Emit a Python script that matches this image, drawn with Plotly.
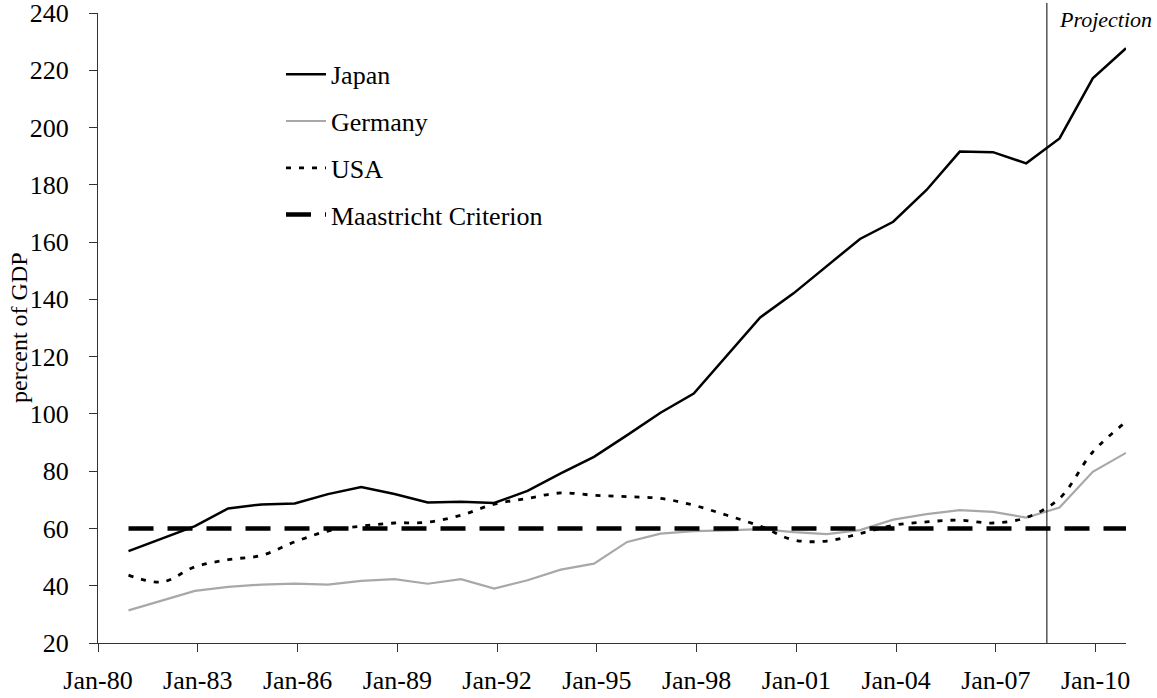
import plotly.graph_objects as go

years = list(range(1980, 2011))
dates = [f"{y}-12-01" for y in years]

japan = [52.1, 56.5, 60.8, 67.0, 68.4, 68.7, 72.0, 74.5, 72.0, 69.1, 69.3, 68.9, 73.1, 79.2, 85.0,
         92.6, 100.4, 107.1, 120.6, 133.7, 142.1, 151.5, 161.1, 167.1, 178.2, 191.6, 191.4, 187.5,
         196.2, 217.2, 227.7]
germany = [31.4, 34.9, 38.2, 39.6, 40.4, 40.7, 40.4, 41.7, 42.3, 40.7, 42.3, 39.0, 41.9, 45.6, 47.7,
           55.3, 58.2, 59.1, 59.3, 59.8, 58.7, 58.0, 59.4, 63.1, 65.0, 66.4, 65.8, 63.8, 67.3, 79.8, 86.4]
usa = [43.7, 41.3, 46.6, 49.1, 50.6, 55.3, 59.1, 60.8, 61.9, 62.2, 64.6, 68.5, 70.5, 72.4, 71.6,
       71.1, 70.5, 68.1, 64.6, 60.8, 56.0, 55.6, 58.2, 61.1, 62.3, 62.9, 61.9, 63.8, 70.5, 86.7, 97.2]
maastricht_level = 60
maastricht_dates = [dates[0], dates[-1]]
maastricht = [maastricht_level, maastricht_level]

projection_date = "2008-07-15"
tick_dates = [f"{y}-01-01" for y in range(1980, 2011, 3)]
tick_text = [f"Jan-{str(y)[2:]}" for y in range(1980, 2011, 3)]
y_ticks = list(range(20, 241, 20))

FONT = "Liberation Serif, Times New Roman, serif"

fig = go.Figure()
fig.add_trace(go.Scatter(x=dates, y=japan, mode="lines", name="Japan", legendgroup="a",
                         line=dict(color="black", width=2.5)))
fig.add_trace(go.Scatter(x=dates, y=germany, mode="lines", name="Germany", legendgroup="b",
                         line=dict(color="#a8a8a8", width=2.2)))
fig.add_trace(go.Scatter(x=dates, y=usa, mode="lines", name="USA", legendgroup="c",
                         line=dict(color="black", width=2.8, dash="5px,8px", shape="spline", smoothing=1)))
fig.add_trace(go.Scatter(x=maastricht_dates, y=maastricht, mode="lines", name="Maastricht Criterion",
                         legendgroup="d", line=dict(color="black", width=4.5, dash="25px,14px")))

fig.add_shape(type="line", xref="x", yref="paper", x0=projection_date, x1=projection_date,
              y0=0, y1=1.016, line=dict(color="black", width=1))
fig.add_annotation(x=projection_date, xref="x", y=0.989, yref="paper", text="<i>Projection</i>",
                   showarrow=False, xanchor="left", yanchor="middle", xshift=10,
                   font=dict(family=FONT, size=22, color="black"))
fig.add_annotation(x=0, xref="paper", y=0.5, yref="paper", text="percent of GDP",
                   showarrow=False, textangle=-90, xanchor="center", yanchor="middle", xshift=-79,
                   font=dict(family=FONT, size=24, color="black"))

fig.update_layout(
    width=1157, height=698,
    margin=dict(l=98, r=31, t=13, b=55, autoexpand=False),
    paper_bgcolor="white", plot_bgcolor="white",
    font=dict(family=FONT, size=26, color="black"),
    showlegend=True,
    legend=dict(x=0.178, y=0.94, xanchor="left", yanchor="top", bgcolor="rgba(0,0,0,0)",
                font=dict(family=FONT, size=26, color="black"), tracegroupgap=10,
                itemwidth=40),
    xaxis=dict(type="date", range=["1980-01-01", "2010-12-01"], tickmode="array",
               tickvals=tick_dates, ticktext=tick_text, showgrid=False, zeroline=False,
               showline=True, linecolor="#333333", linewidth=1, ticks="outside", ticklen=8,
               tickcolor="#333333", ticklabelstandoff=6, automargin=False,
               ticklabeloverflow="allow", tickfont=dict(family=FONT, size=26)),
    yaxis=dict(range=[20, 240], tickmode="array", tickvals=y_ticks, showgrid=False, zeroline=False,
               showline=True, linecolor="#333333", linewidth=1, ticks="outside", ticklen=8,
               tickcolor="#333333", ticklabelstandoff=15, automargin=False,
               ticklabeloverflow="allow", tickfont=dict(family=FONT, size=26)),
)

fig.write_html("out.html", config={"displayModeBar": False},
               post_script="document.body.style.margin='0';document.body.style.overflow='hidden';")
